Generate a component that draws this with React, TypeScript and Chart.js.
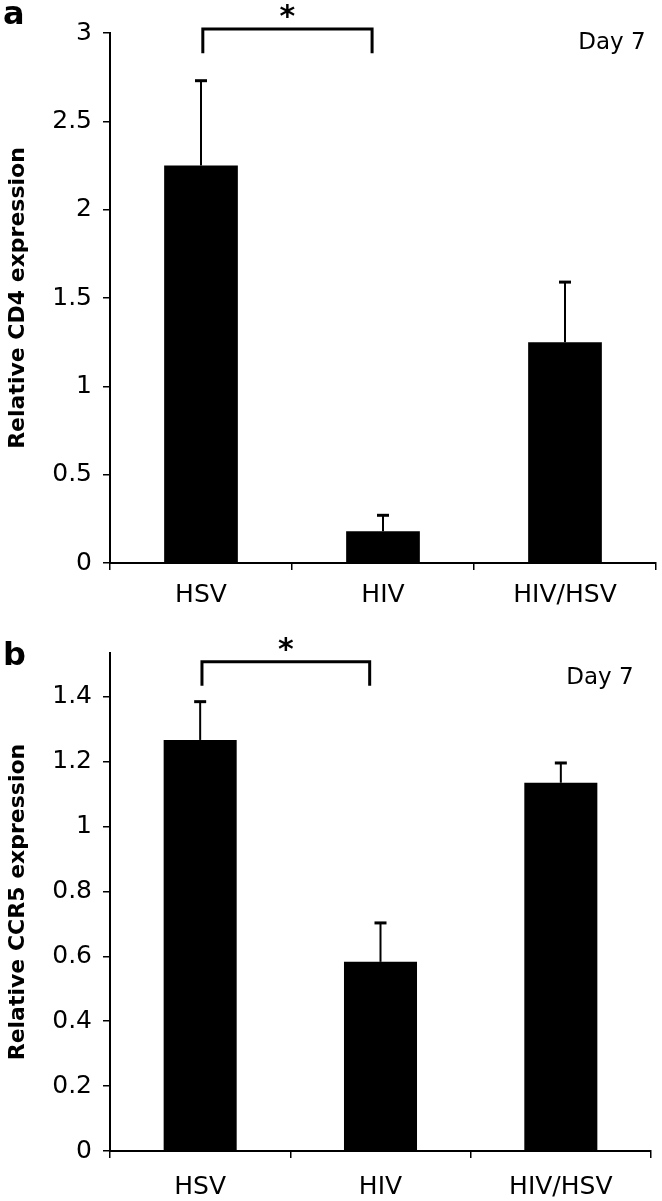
import React, { useEffect, useRef } from "react";
import { Chart, registerables } from "chart.js";

Chart.register(...registerables);

// ---- data ----
const categories = ["HSV", "HIV", "HIV/HSV"];

const cd4Values = [2.25, 0.18, 1.25];
const cd4ErrorTops = [2.73, 0.27, 1.59];
const cd4TickValues = [0, 0.5, 1, 1.5, 2, 2.5, 3];
const cd4AxisMax = 3;
const cd4Bracket = [3.022, 2.886]; // bar height, drop end

const ccr5Values = [1.267, 0.583, 1.135];
const ccr5ErrorTops = [1.385, 0.703, 1.196];
const ccr5TickValues = [0, 0.2, 0.4, 0.6, 0.8, 1, 1.2, 1.4];
const ccr5AxisMax = 1.535;
const ccr5Bracket = [1.508, 1.434];

const bracketCategories = [0.01, 0.94]; // from HSV to HIV
const significanceMark = "*";
const dayLabel = "Day 7";

const FONT = "'DejaVu Sans', Verdana, sans-serif";

const annotationPlugin = {
  id: "annotations",
  afterDatasetsDraw(chart: any) {
    const o = chart.options.plugins.annotations;
    const { ctx, chartArea } = chart;
    const xs = chart.scales.x;
    const ys = chart.scales.y;
    const meta = chart.getDatasetMeta(0);
    ctx.save();
    // error bars (upper only)
    ctx.strokeStyle = "#000";
    o.values.forEach((v: number, i: number) => {
      const x = meta.data[i].x;
      const yb = ys.getPixelForValue(v);
      const yt = ys.getPixelForValue(o.errors[i]);
      ctx.lineWidth = 2;
      ctx.beginPath();
      ctx.moveTo(x, yb);
      ctx.lineTo(x, yt);
      ctx.stroke();
      ctx.lineWidth = 3;
      ctx.beginPath();
      ctx.moveTo(x - 6, yt);
      ctx.lineTo(x + 6, yt);
      ctx.stroke();
    });
    // significance bracket
    const x1 = xs.getPixelForValue(bracketCategories[0]);
    const x2 = xs.getPixelForValue(bracketCategories[1]);
    const yTop = ys.getPixelForValue(o.bracket[0]);
    const yDrop = ys.getPixelForValue(o.bracket[1]);
    ctx.lineWidth = 3;
    ctx.lineJoin = "miter";
    ctx.beginPath();
    ctx.moveTo(x1, yDrop);
    ctx.lineTo(x1, yTop);
    ctx.lineTo(x2, yTop);
    ctx.lineTo(x2, yDrop);
    ctx.stroke();
    ctx.fillStyle = "#000";
    ctx.font = `bold 30px ${FONT}`;
    ctx.textAlign = "center";
    ctx.textBaseline = "middle";
    ctx.fillText(significanceMark, (x1 + x2) / 2, yTop - 11);
    // Day label
    ctx.font = `23px ${FONT}`;
    ctx.fillText(dayLabel, chartArea.right + o.dayDx, chartArea.top + o.dayDy);
    ctx.restore();
  },
};

function makeConfig(
  values: number[],
  errors: number[],
  tickValues: number[],
  max: number,
  bracket: number[],
  title: string,
  padTop: number,
  padRight: number,
  xHeight: number,
  labelPad: number,
  dayDx: number,
  dayDy: number
): any {
  return {
    type: "bar",
    data: {
      labels: categories,
      datasets: [
        {
          data: values,
          backgroundColor: "#000",
          borderWidth: 0,
          barPercentage: 0.81,
          categoryPercentage: 0.5,
        },
      ],
    },
    options: {
      responsive: false,
      animation: false,
      devicePixelRatio: 1,
      layout: { padding: { left: 0, top: padTop, right: padRight, bottom: 0 } },
      plugins: {
        legend: { display: false },
        tooltip: { enabled: false },
        annotations: { values, errors, bracket, dayDx, dayDy },
      },
      scales: {
        x: {
          type: "category",
          offset: true,
          grid: {
            offset: true,
            drawOnChartArea: false,
            drawTicks: true,
            tickLength: 7,
            color: "#000",
            lineWidth: 1.5,
          },
          border: { display: true, color: "#000", width: 2 },
          ticks: {
            color: "#000",
            font: { family: FONT, size: 25 },
            padding: labelPad,
            maxRotation: 0,
          },
          afterFit(scale: any) {
            scale.height = xHeight;
          },
        },
        y: {
          min: 0,
          max,
          grid: {
            drawOnChartArea: false,
            drawTicks: true,
            tickLength: 7,
            color: "#000",
            lineWidth: 1.5,
          },
          border: { display: true, color: "#000", width: 2 },
          ticks: {
            color: "#000",
            font: { family: FONT, size: 25 },
            padding: 11,
            callback: (v: number) => String(Math.round(v * 1000) / 1000),
          },
          afterBuildTicks(scale: any) {
            scale.ticks = tickValues.map((v) => ({ value: v }));
          },
          title: {
            display: true,
            text: title,
            color: "#000",
            font: { family: FONT, size: 22, weight: "bold" },
            padding: { top: 5, bottom: 0 },
          },
          afterFit(scale: any) {
            scale.width = 110;
          },
        },
      },
    },
    plugins: [annotationPlugin],
  };
}

function Panel(props: { config: any; top: number; height: number; letter: string; letterTop: number }) {
  const ref = useRef<HTMLCanvasElement | null>(null);
  useEffect(() => {
    if (!ref.current) return;
    const chart = new Chart(ref.current, props.config);
    return () => chart.destroy();
  }, []);
  return (
    <>
      <canvas
        ref={ref}
        width={662}
        height={props.height}
        style={{ position: "absolute", left: 0, top: props.top, width: 662, height: props.height }}
      />
      <div
        style={{
          position: "absolute",
          left: 3,
          top: props.letterTop,
          fontFamily: FONT,
          fontWeight: "bold",
          fontSize: 32,
          lineHeight: "32px",
          color: "#000",
        }}
      >
        {props.letter}
      </div>
    </>
  );
}

export default function App() {
  const cfgA = makeConfig(
    cd4Values, cd4ErrorTops, cd4TickValues, cd4AxisMax, cd4Bracket,
    "Relative CD4 expression", 33, 6, 47, 10, -44, 10
  );
  const cfgB = makeConfig(
    ccr5Values, ccr5ErrorTops, ccr5TickValues, ccr5AxisMax, ccr5Bracket,
    "Relative CCR5 expression", 43, 11, 50, 14, -51, 25
  );
  return (
    <div style={{ position: "absolute", left: 0, top: 0, width: 662, height: 1201, background: "#fff", overflow: "hidden" }}>
      <Panel config={cfgA} top={0} height={610} letter="a" letterTop={-3} />
      <Panel config={cfgB} top={610} height={591} letter="b" letterTop={638} />
    </div>
  );
}
